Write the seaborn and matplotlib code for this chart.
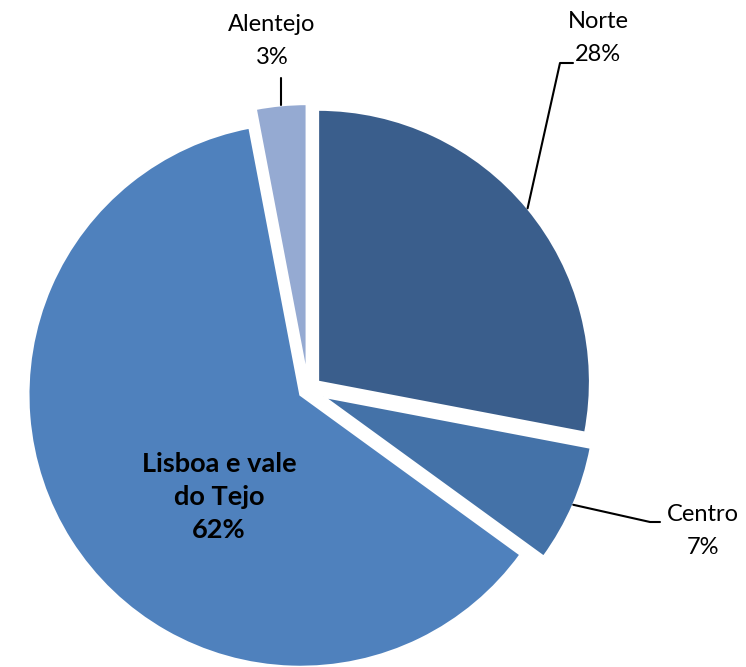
import numpy as np
import matplotlib
matplotlib.use("Agg")
import matplotlib.pyplot as plt
import seaborn as sns

regions = ["Norte", "Centro", "Lisboa e vale\ndo Tejo", "Alentejo"]
shares = [28, 7, 62, 3]
pct_labels = ["28%", "7%", "62%", "3%"]
colors = ["#3A5E8C", "#4472A8", "#4F81BD", "#95AAD2"]

sns.set_theme(style="white")
plt.rcParams['font.family'] = ['Lato', 'DejaVu Sans']
plt.rcParams['text.color'] = 'black'

W, H = 746, 667
cx, cy = 308, 390   # pie centre in pixels (from top-left)
R = 272

fig = plt.figure(figsize=(W / 100, H / 100), dpi=100)
ax = fig.add_axes([0, 0, 1, 1])

explode = [13, 17, 9, 14]  # offsets in pixel units (radius is 272)
wedges, _ = ax.pie(shares, startangle=90, counterclock=False, colors=colors,
                   radius=R, explode=explode, center=(0, 0), frame=True,
                   wedgeprops=dict(edgecolor='white', linewidth=1.6))
ax.set_xlim(-cx, W - cx)
ax.set_ylim(-(H - cy), cy)
ax.set_aspect('equal')
ax.axis('off')

# outside labels with leader lines
txt_kw = dict(fontsize=17, color='black', ha='center', va='center', linespacing=1.75)
label_pos = {0: (598, 38), 1: (703, 531), 3: (272, 41)}
for i, (tx, ty) in label_pos.items():
    w = wedges[i]
    ang = np.deg2rad((w.theta1 + w.theta2) / 2)
    ox, oy = w.center
    sx, sy = ox + w.r * np.cos(ang), oy + w.r * np.sin(ang)
    ax.text(tx - cx, cy - ty, f"{regions[i]}\n{pct_labels[i]}", **txt_kw)
    if i == 0:
        ax.plot([sx, 560 - cx, 573 - cx], [sy, cy - 63, cy - 63], color='black', lw=1.5)
    elif i == 1:
        ax.plot([sx, 650 - cx, 660 - cx], [sy, cy - 522, cy - 522], color='black', lw=1.5)
    else:
        ax.plot([sx, sx], [sy, cy - 78], color='black', lw=1.5)

# inside label for Lisboa
ax.text(219 - cx, cy - 497, f"{regions[2]}\n{pct_labels[2]}", fontsize=19.5,
        fontweight='bold', color='black', ha='center', va='center', linespacing=1.45)

fig.savefig("out.png", dpi=100)
